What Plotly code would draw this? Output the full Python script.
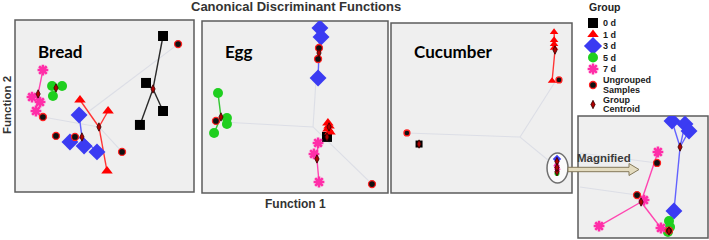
import plotly.graph_objects as go

W, H = 709, 240
GROUPS = ["0 d", "1 d", "3 d", "5 d", "7 d"]

# ---------------- data: canonical discriminant scores (Function 1, Function 2) ----------------
# Bread
bread_f1 = {"0 d": [3.27, 2.32, 3.27, 1.98], "1 d": [-1.37, 0.20, 0.14],
            "3 d": [-1.42, -1.93, -1.14, -0.42], "5 d": [-2.93, -2.37, -2.88],
            "7 d": [-3.44, -4.05, -3.60, -3.83]}
bread_f2 = {"0 d": [4.07, 1.34, -0.29, -1.10], "1 d": [0.35, -0.29, -3.78],
            "3 d": [-0.52, -2.09, -2.33, -2.67], "5 d": [1.16, 1.16, 0.58],
            "7 d": [2.09, 0.52, 0.23, -0.29]}
bread_cent_f1 = [2.71, -0.31, -1.26, -2.71, -3.71]
bread_cent_f2 = [0.99, -1.22, -1.80, 1.05, 0.70]
bread_ung_f1 = [4.11, -3.44, -2.71, -1.65, 0.98]
bread_ung_f2 = [3.60, -0.64, -1.74, -1.80, -2.67]
bread_link_f1 = [4.11, -0.92, None, -3.44, -0.31, None, -0.31, 0.98]
bread_link_f2 = [3.60, -0.35, None, -0.64, -1.22, None, -1.22, -2.67]

# Egg
egg_f1 = {"0 d": [1.72], "1 d": [1.77, 1.83, 1.77, 1.88], "3 d": [1.34, 1.40, 1.24],
          "5 d": [-4.14, -3.66, -3.66, -4.35], "7 d": [1.24, 1.02, 1.29]}
egg_f2 = {"0 d": [-1.74], "1 d": [-0.93, -1.10, -1.28, -1.45], "3 d": [4.59, 4.07, 1.69],
          "5 d": [0.81, -0.64, -0.99, -1.51], "7 d": [-2.09, -2.73, -4.36]}
egg_cent_f1 = [1.72, 1.83, 1.29, -3.98, 1.18]
egg_cent_f2 = [-1.74, -1.16, 3.14, -0.58, -3.02]
egg_ung_f1 = [1.29, 1.24, -4.25, 4.14]
egg_ung_f2 = [3.43, 2.79, -0.81, -4.48]
egg_link_f1 = [0.97, -3.92, None, 0.97, 1.13, None, 0.97, 4.14]
egg_link_f2 = [-1.16, -0.87, None, -1.16, 1.57, None, -1.16, -4.48]

# Cucumber
cuc_f1 = {"0 d": [-3.45], "1 d": [4.01, 4.01, 4.01, 4.01, 3.90], "3 d": [4.17],
          "5 d": [4.17], "7 d": [4.15, 4.19]}
cuc_f2 = {"0 d": [-2.12], "1 d": [4.47, 4.00, 3.76, 3.53, 1.59], "3 d": [-3.00],
          "5 d": [-3.85], "7 d": [-3.40, -3.60]}
cuc_cent_f1 = [-3.45, 4.06, 4.17, 4.17, 4.17]
cuc_cent_f2 = [-2.12, 3.41, -3.15, -3.75, -3.50]
cuc_ung_f1 = [4.28, -4.12]
cuc_ung_f2 = [1.65, -1.47]
cuc_link_f1 = [2.13, -4.12, None, 2.13, 4.06, None, 2.13, 3.67]
cuc_link_f2 = [-1.71, -1.47, None, -1.71, 1.53, None, -1.71, -3.06]
cuc_zoom_f1 = [3.62, 4.78]
cuc_zoom_f2 = [-4.41, -2.65]

# Magnified (Cucumber 3 d / 5 d / 7 d)
mag_f1 = {"0 d": [], "1 d": [], "3 d": [2.23, 3.23, 3.54, 2.38],
          "5 d": [2.00, 2.08, 1.92], "7 d": [1.15, 0.08, -3.38, 1.38]}
mag_f2 = {"0 d": [], "1 d": [], "3 d": [4.59, 4.34, 3.77, -2.79],
          "5 d": [-3.61, -4.10, -4.51], "7 d": [2.05, -1.89, -4.02, -4.18]}
mag_cent_f1 = [None, None, 2.85, 2.00, -0.15]
mag_cent_f2 = [None, None, 2.46, -4.43, -2.05]
mag_ung_f1 = [1.08, -0.46, 2.00]
mag_ung_f2 = [1.15, -1.48, -4.40]
mag_link_f1 = [-4.85, 1.08, None, -4.85, -0.46]
mag_link_f2 = [1.97, 1.15, None, -0.82, -1.48]

panel_names = ["Bread", "Egg", "Cucumber", ""]
legend_labels = ["0 d", "1 d", "3 d", "5 d", "7 d", ["Ungrouped", "Samples"], ["Group", "Centroid"]]

# ---------------- styles ----------------
COL = {"0 d": "#000000", "1 d": "#ff0000", "3 d": "#3b3bf2", "5 d": "#1fcf1f", "7 d": "#ff2ea8"}
LCOL = {"0 d": "#2a2a2a", "1 d": "#ff3535", "3 d": "#6262ff", "5 d": "#33c733", "7 d": "#ff45b0"}
SYM = {"0 d": "square", "1 d": "triangle-up", "3 d": "diamond", "5 d": "circle", "7 d": "asterisk-open"}
SIZE = {"0 d": 10, "1 d": 10, "3 d": 13, "5 d": 10, "7 d": 9}
FONT = "Liberation Sans, Arial, sans-serif"

# panel pixel boxes (left, top, right, bottom)
boxes = [(15, 20, 194, 192), (202, 21, 388, 193), (391, 23, 572, 193), (578, 116, 708, 238)]
panels = [
    (bread_f1, bread_f2, bread_cent_f1, bread_cent_f2, bread_ung_f1, bread_ung_f2, bread_link_f1, bread_link_f2),
    (egg_f1, egg_f2, egg_cent_f1, egg_cent_f2, egg_ung_f1, egg_ung_f2, egg_link_f1, egg_link_f2),
    (cuc_f1, cuc_f2, cuc_cent_f1, cuc_cent_f2, cuc_ung_f1, cuc_ung_f2, cuc_link_f1, cuc_link_f2),
    (mag_f1, mag_f2, mag_cent_f1, mag_cent_f2, mag_ung_f1, mag_ung_f2, mag_link_f1, mag_link_f2),
]
size_scale = [
    {g: 1.0 for g in GROUPS},
    {g: 1.0 for g in GROUPS},
    {"0 d": 0.7, "1 d": 0.75, "3 d": 0.5, "5 d": 0.5, "7 d": 0.55},
    {g: 1.0 for g in GROUPS},
]


def px(x):
    return x / W


def py(y):
    return 1 - y / H


fig = go.Figure()
shapes = []
annotations = []
layout_axes = {}

for i, (box, data) in enumerate(zip(boxes, panels)):
    n = i + 1
    xa = "x" if n == 1 else f"x{n}"
    ya = "y" if n == 1 else f"y{n}"
    l, t, r, b = box
    layout_axes["xaxis" if n == 1 else f"xaxis{n}"] = dict(
        domain=[px(l), px(r)], range=[-5, 5], visible=False, anchor=ya, fixedrange=True)
    layout_axes["yaxis" if n == 1 else f"yaxis{n}"] = dict(
        domain=[py(b), py(t)], range=[-5, 5], visible=False, anchor=xa, fixedrange=True)
    shapes.append(dict(type="rect", xref="paper", yref="paper", x0=px(l), x1=px(r), y0=py(b), y1=py(t),
                       fillcolor="#efefef", line=dict(color="#5c5c5c", width=1.5), layer="below"))
    f1, f2, c1, c2, u1, u2, k1, k2 = data
    # faint territorial lines
    fig.add_trace(go.Scatter(x=k1, y=k2, mode="lines", line=dict(color="#dcdee6", width=1.1),
                             xaxis=xa, yaxis=ya, hoverinfo="skip", showlegend=False))
    # centroid-to-member lines
    for gi, g in enumerate(GROUPS):
        if not f1[g] or c1[gi] is None:
            continue
        lx, ly = [], []
        for a, bb in zip(f1[g], f2[g]):
            lx += [c1[gi], a, None]
            ly += [c2[gi], bb, None]
        fig.add_trace(go.Scatter(x=lx, y=ly, mode="lines", line=dict(color=LCOL[g], width=1.4),
                                 xaxis=xa, yaxis=ya, hoverinfo="skip", showlegend=False))
    # group members
    for g in GROUPS:
        if not f1[g]:
            continue
        s = SIZE[g] * size_scale[i][g]
        mk = dict(symbol=SYM[g], size=s, color=COL[g], line=dict(width=0, color=COL[g]))
        if g == "7 d":
            mk["line"] = dict(width=2.6 * size_scale[i][g], color=COL[g])
        fig.add_trace(go.Scatter(x=f1[g], y=f2[g], mode="markers", marker=mk,
                                 xaxis=xa, yaxis=ya, showlegend=False))
    # ungrouped samples
    us = 7 * (0.85 if i == 2 else 1.0)
    fig.add_trace(go.Scatter(x=u1, y=u2, mode="markers",
                             marker=dict(symbol="circle", size=us, color="#111111",
                                         line=dict(color="#ff2020", width=1.3)),
                             xaxis=xa, yaxis=ya, showlegend=False))
    # centroids
    fig.add_trace(go.Scatter(x=c1, y=c2, mode="markers",
                             marker=dict(symbol="diamond-tall", size=6, color="#b00000",
                                         line=dict(color="#300000", width=0.8)),
                             xaxis=xa, yaxis=ya, showlegend=False))
    if panel_names[i]:
        annotations.append(dict(text=f"<b>{panel_names[i]}</b>", xref="paper", yref="paper",
                                x=px(l + 21), y=py(51), xanchor="left", yanchor="middle",
                                showarrow=False, font=dict(family="Lato, sans-serif", size=17, color="#000000")))

# zoom ellipse on cucumber panel
shapes.append(dict(type="circle", xref="x3", yref="y3", x0=cuc_zoom_f1[0], x1=cuc_zoom_f1[1],
                   y0=cuc_zoom_f2[0], y1=cuc_zoom_f2[1], fillcolor="rgba(255,255,255,0.75)",
                   line=dict(color="#707070", width=1.5), layer="below"))

# arrow to magnified panel
ax0, ax1, ax2 = 568, 629, 639
ay = 169.5
path = (f"M {px(ax0)} {py(ay - 2.2)} L {px(ax1)} {py(ay - 2.2)} L {px(ax1)} {py(ay - 6)} "
        f"L {px(ax2)} {py(ay)} L {px(ax1)} {py(ay + 6)} L {px(ax1)} {py(ay + 2.2)} "
        f"L {px(ax0)} {py(ay + 2.2)} Z")
shapes.append(dict(type="path", xref="paper", yref="paper", path=path,
                   fillcolor="#e4dcc0", line=dict(color="#84795a", width=1)))
annotations.append(dict(text="<b>Magnified</b>", xref="paper", yref="paper", x=px(575), y=py(158),
                        xanchor="left", yanchor="middle", showarrow=False,
                        font=dict(family=FONT, size=11.5, color="#3a3a3a")))

# legend (drawn in its own pixel-scaled axis)
lx0, ly0, lx1, ly1 = 578, 0, 709, 115
layout_axes["xaxis5"] = dict(domain=[px(lx0), px(lx1)], range=[lx0, lx1], visible=False, anchor="y5", fixedrange=True)
layout_axes["yaxis5"] = dict(domain=[py(ly1), py(ly0)], range=[ly1, ly0], visible=False, anchor="x5", fixedrange=True)
leg_rows = [23, 34.5, 46, 57.5, 69, 85, 104.5]
leg_mx, leg_tx = 593, 601.5
for gi, g in enumerate(GROUPS):
    mk = dict(symbol=SYM[g], size=SIZE[g] if g != "3 d" else 14, color=COL[g], line=dict(width=0, color=COL[g]))
    if g == "7 d":
        mk["line"] = dict(width=2.6, color=COL[g])
    fig.add_trace(go.Scatter(x=[leg_mx], y=[leg_rows[gi]], mode="markers", marker=mk,
                             xaxis="x5", yaxis="y5", showlegend=False, cliponaxis=False))
fig.add_trace(go.Scatter(x=[leg_mx], y=[leg_rows[5]], mode="markers",
                         marker=dict(symbol="circle", size=7, color="#111111", line=dict(color="#ff2020", width=1.3)),
                         xaxis="x5", yaxis="y5", showlegend=False, cliponaxis=False))
fig.add_trace(go.Scatter(x=[leg_mx], y=[leg_rows[6]], mode="markers",
                         marker=dict(symbol="diamond-tall", size=6, color="#b00000", line=dict(color="#300000", width=0.8)),
                         xaxis="x5", yaxis="y5", showlegend=False, cliponaxis=False))
for lab, yy in zip(legend_labels, leg_rows):
    lines = lab if isinstance(lab, list) else [lab]
    k = len(lines)
    for j, txt in enumerate(lines):
        ty = yy + (j - (k - 1) / 2) * 9.5
        annotations.append(dict(text=f"<b>{txt}</b>", xref="paper", yref="paper", x=px(leg_tx), y=py(ty),
                                xanchor="left", yanchor="middle", align="left", showarrow=False,
                                borderpad=0, font=dict(family=FONT, size=9, color="#1a1a1a")))
annotations.append(dict(text="<b>Group</b>", xref="paper", yref="paper", x=px(605), y=py(7),
                        xanchor="center", yanchor="middle", showarrow=False,
                        font=dict(family=FONT, size=10.5, color="#222222")))

# titles
annotations.append(dict(text="<b>Canonical Discriminant Functions</b>", xref="paper", yref="paper",
                        x=px(296), y=py(6.5), xanchor="center", yanchor="middle", showarrow=False,
                        font=dict(family=FONT, size=13, color="#333333")))
annotations.append(dict(text="<b>Function 1</b>", xref="paper", yref="paper", x=px(295), y=py(204),
                        xanchor="center", yanchor="middle", showarrow=False,
                        font=dict(family=FONT, size=12, color="#333333")))
annotations.append(dict(text="<b>Function 2</b>", xref="paper", yref="paper", x=px(7), y=py(105),
                        xanchor="center", yanchor="middle", showarrow=False, textangle=-90,
                        font=dict(family=FONT, size=11.5, color="#333333")))

fig.update_layout(width=W, height=H, margin=dict(l=0, r=0, t=0, b=0),
                  paper_bgcolor="white", plot_bgcolor="rgba(0,0,0,0)",
                  shapes=shapes, annotations=annotations, showlegend=False, **layout_axes)
fig.write_html("out.html", config={"displayModeBar": False, "staticPlot": True},
               post_script="document.body.style.margin='0';document.body.style.overflow='hidden';")
